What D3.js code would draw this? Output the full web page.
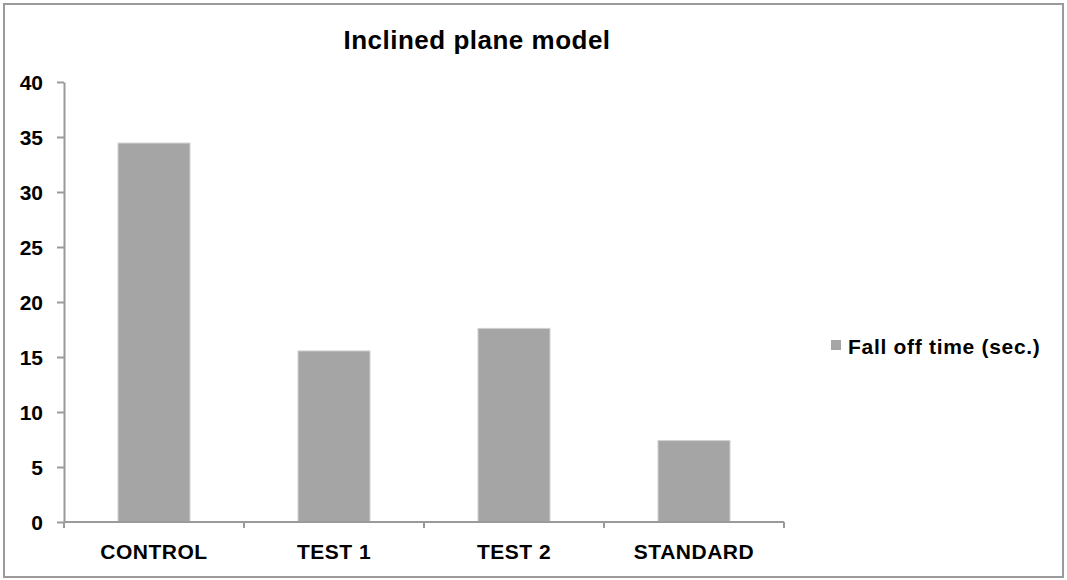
<!DOCTYPE html>
<html>
<head>
<meta charset="utf-8">
<script src="https://cdn.jsdelivr.net/npm/d3@7"></script>
<style>
  body { margin: 0; background: #fff; }
  svg text { font-family: Arial, "Liberation Sans", sans-serif; font-weight: bold; fill: #000; }
</style>
</head>
<body>
<svg id="chart" width="1067" height="580"></svg>
<script>
const categories = ["CONTROL", "TEST 1", "TEST 2", "STANDARD"];
const fallOffTime = [34.45, 15.55, 17.6, 7.4];
const yTicks = [0, 5, 10, 15, 20, 25, 30, 35, 40];
const seriesName = "Fall off time (sec.)";
const chartTitle = "Inclined plane model";

const svg = d3.select('#chart');
const margin = {left: 64, right: 784, top: 82, bottom: 522};

// outer frame
svg.append('rect')
    .attr('x', 4).attr('y', 4)
    .attr('width', 1059).attr('height', 573)
    .attr('fill', '#fff')
    .attr('stroke', '#9a9a9a')
    .attr('stroke-width', 2);

const x = d3.scaleBand()
    .domain(categories)
    .range([margin.left, margin.right])
    .paddingInner(0.6)
    .paddingOuter(0.3);

const y = d3.scaleLinear()
    .domain([0, 40])
    .range([margin.bottom, margin.top]);

// bars
svg.append('g').selectAll('rect')
    .data(fallOffTime)
    .enter().append('rect')
    .attr('x', (d, i) => x(categories[i]))
    .attr('y', d => y(d))
    .attr('width', x.bandwidth())
    .attr('height', d => y(0) - y(d))
    .attr('fill', '#a5a5a5')
    .attr('stroke', '#d0d0d0')
    .attr('stroke-width', 1);

// y axis
const yAxis = svg.append('g')
    .attr('transform', `translate(${margin.left},0)`)
    .call(d3.axisLeft(y).tickValues(yTicks).tickSize(7).tickSizeOuter(0).tickPadding(14));
yAxis.select('.domain').attr('stroke', '#9a9a9a').attr('stroke-width', 2);
yAxis.selectAll('.tick line').attr('stroke', '#9a9a9a').attr('stroke-width', 2);
yAxis.selectAll('.tick text')
    .style('font-size', '21px')
    .style('font-family', 'Arial, "Liberation Sans", sans-serif')
    .attr('dy', '0.36em');

// x axis: ticks at category boundaries
const xAxis = svg.append('g')
    .attr('transform', `translate(0,${margin.bottom})`);
const bounds = d3.range(categories.length + 1).map(i => margin.left + i * (margin.right - margin.left) / categories.length);
xAxis.append('line')
    .attr('x1', margin.left).attr('x2', margin.right)
    .attr('stroke', '#9a9a9a').attr('stroke-width', 2);
xAxis.selectAll('line.tk')
    .data(bounds)
    .enter().append('line')
    .attr('class', 'tk')
    .attr('x1', d => d).attr('x2', d => d)
    .attr('y1', 0).attr('y2', 6)
    .attr('stroke', '#9a9a9a').attr('stroke-width', 2);
xAxis.selectAll('text')
    .data(categories)
    .enter().append('text')
    .attr('x', d => x(d) + x.bandwidth() / 2)
    .attr('y', 37)
    .attr('text-anchor', 'middle')
    .style('font-size', '21px')
    .style('letter-spacing', '0.5px')
    .text(d => d);

// title
svg.append('text')
    .attr('x', 477).attr('y', 49)
    .attr('text-anchor', 'middle')
    .style('font-size', '26px')
    .style('letter-spacing', '0.5px')
    .text(chartTitle);

// legend
svg.append('rect')
    .attr('x', 831).attr('y', 340)
    .attr('width', 10).attr('height', 10)
    .attr('fill', '#a5a5a5');
svg.append('text')
    .attr('x', 848).attr('y', 354)
    .style('font-size', '21px')
    .style('letter-spacing', '0.7px')
    .text(seriesName);
</script>
</body>
</html>
